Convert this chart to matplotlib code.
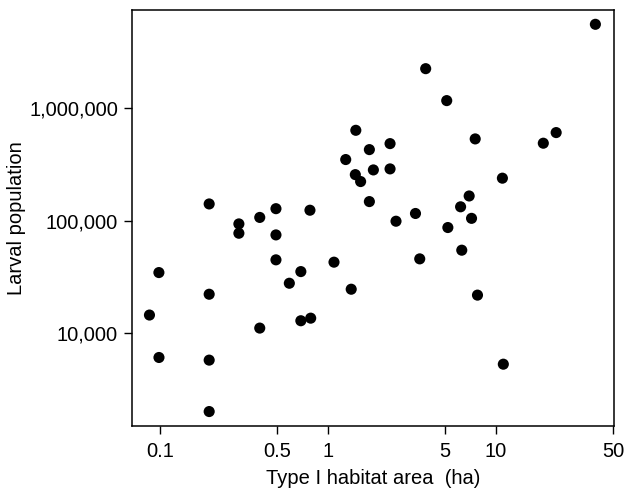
import numpy as np
import matplotlib
matplotlib.use("Agg")
import matplotlib.pyplot as plt

plt.rcParams['font.family'] = ['Liberation Sans', 'DejaVu Sans']

# habitat area (ha) and larval population
area = [39.2, 3.83, 5.11, 1.47, 7.55, 22.9, 19.2, 2.35, 1.77, 1.28,
        2.35, 1.87, 1.46, 1.57, 10.96, 1.77, 6.95, 6.18, 7.18, 3.33,
        2.55, 5.19, 6.28, 3.53, 7.79, 11.1, 1.38, 1.09, 0.784, 0.492,
        0.492, 0.492, 0.394, 0.296, 0.296, 0.197, 0.692, 0.591, 0.692, 0.792,
        0.394, 0.197, 0.0989, 0.0869, 0.099, 0.197, 0.197]
population = [5.58e6, 2.25e6, 1.17e6, 6.37e5, 5.34e5, 6.08e5, 4.89e5, 4.85e5, 4.29e5, 3.50e5,
              2.89e5, 2.83e5, 2.57e5, 2.23e5, 2.39e5, 1.48e5, 1.66e5, 1.33e5, 1.05e5, 1.16e5,
              9.9e4, 8.7e4, 5.47e4, 4.58e4, 2.18e4, 5.3e3, 2.46e4, 4.28e4, 1.24e5, 1.28e5,
              7.48e4, 4.49e4, 1.07e5, 9.37e4, 7.74e4, 1.41e5, 3.53e4, 2.78e4, 1.29e4, 1.36e4,
              1.11e4, 2.22e4, 3.46e4, 1.45e4, 6.08e3, 5.76e3, 2.01e3]

x_ticks = [0.1, 0.5, 1, 5, 10, 50]
x_labels = ["0.1", "0.5", "1", "5", "10", "50"]
y_ticks = [1e4, 1e5, 1e6]
y_labels = ["10,000", "100,000", "1,000,000"]

fig = plt.figure(figsize=(6.42, 4.95), dpi=100)
ax = fig.add_axes([0.2056, 0.1384, 0.7508, 0.8414])

ax.scatter(area, population, s=64, c='black', edgecolors='none', zorder=3)

ax.set_xscale('log')
ax.set_yscale('log')
ax.set_xlim(0.0684, 50.6)
ax.set_ylim(1480, 7.48e6)

ax.set_xticks(x_ticks)
ax.set_xticklabels(x_labels)
ax.set_yticks(y_ticks)
ax.set_yticklabels(y_labels)
ax.minorticks_off()

ax.tick_params(axis='both', direction='out', length=6, width=1, labelsize=14.5, color='black')
ax.tick_params(axis='x', pad=5)
ax.tick_params(axis='y', pad=4)
for sp in ax.spines.values():
    sp.set_linewidth(1.1)
    sp.set_color('black')

ax.set_xlabel("Type I habitat area  (ha)", fontsize=14.5, labelpad=6)
ax.set_ylabel("Larval population", fontsize=14.5, labelpad=2)

fig.savefig("out.png", dpi=100)
